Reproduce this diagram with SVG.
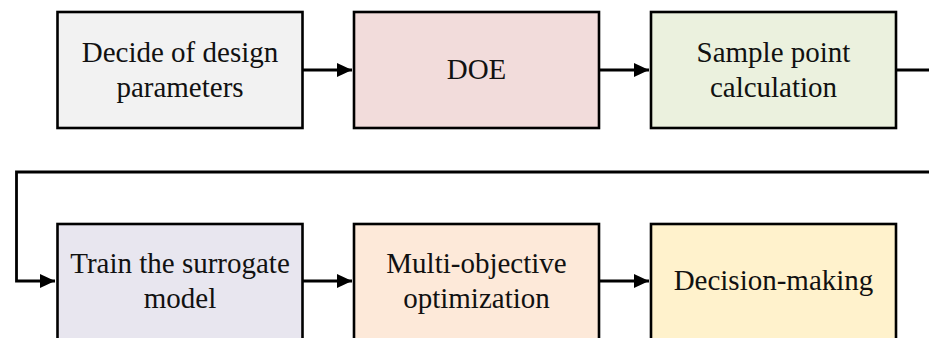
<svg xmlns="http://www.w3.org/2000/svg" width="929" height="338" viewBox="0 0 929 338">
<defs>
<style>
.box{stroke:#000;stroke-width:2.6}
.t{font-family:"Liberation Serif","Times New Roman",serif;font-size:29px;fill:#111;text-anchor:middle}
.c{fill:none;stroke:#000;stroke-width:2.8}
</style>
<marker id="ah" markerWidth="15" markerHeight="14" refX="15" refY="7" orient="auto" markerUnits="userSpaceOnUse">
<path d="M0,0 L15,7 L0,14 Z" fill="#000"/>
</marker>
</defs>
<rect width="929" height="338" fill="#fff"/>
<g id="connectors">
<path class="c" d="M302,70 H352" marker-end="url(#ah)"/>
<path class="c" d="M599,70 H649" marker-end="url(#ah)"/>
<path class="c" d="M896,70 H930"/>
<path class="c" d="M930,172 H16.5 V281 H55" marker-end="url(#ah)"/>
<path class="c" d="M302,281 H352" marker-end="url(#ah)"/>
<path class="c" d="M599,281 H649" marker-end="url(#ah)"/>
</g>
<g id="n1">
<rect class="box" x="57.5" y="12" width="245" height="116" fill="#f2f2f2"/>
<text class="t" x="180" y="62">Decide of design</text>
<text class="t" x="180" y="97">parameters</text>
</g>
<g id="n2">
<rect class="box" x="354" y="12" width="245" height="116" fill="#f2dcdb"/>
<text class="t" x="476.5" y="79">DOE</text>
</g>
<g id="n3">
<rect class="box" x="651" y="12" width="245" height="116" fill="#ebf1de"/>
<text class="t" x="773.5" y="62">Sample point</text>
<text class="t" x="773.5" y="97">calculation</text>
</g>
<g id="n4">
<rect class="box" x="57.5" y="224" width="245" height="117" fill="#e8e6ef"/>
<text class="t" x="180" y="273">Train the surrogate</text>
<text class="t" x="180" y="308">model</text>
</g>
<g id="n5">
<rect class="box" x="354" y="224" width="245" height="117" fill="#fde9d9"/>
<text class="t" x="476.5" y="273">Multi-objective</text>
<text class="t" x="476.5" y="308">optimization</text>
</g>
<g id="n6">
<rect class="box" x="651" y="224" width="245" height="117" fill="#fff2cc"/>
<text class="t" x="773.5" y="290">Decision-making</text>
</g>
</svg>
